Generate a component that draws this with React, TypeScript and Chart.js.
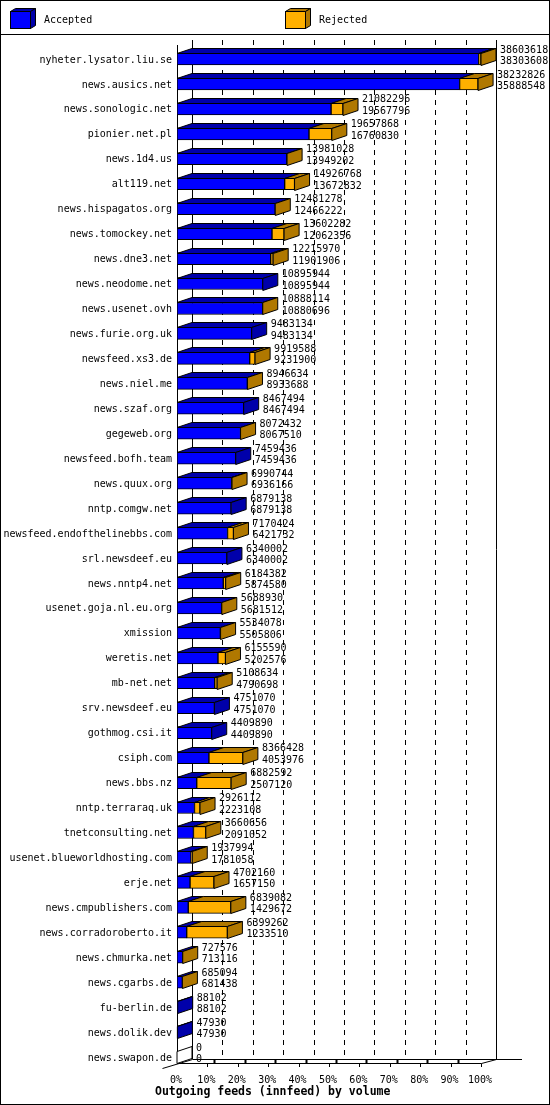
import { useEffect, useRef } from "react";
import { Chart, registerables } from "chart.js";

Chart.register(...registerables);

const hosts = [
  "nyheter.lysator.liu.se",
  "news.ausics.net",
  "news.sonologic.net",
  "pionier.net.pl",
  "news.1d4.us",
  "alt119.net",
  "news.hispagatos.org",
  "news.tomockey.net",
  "news.dne3.net",
  "news.neodome.net",
  "news.usenet.ovh",
  "news.furie.org.uk",
  "newsfeed.xs3.de",
  "news.niel.me",
  "news.szaf.org",
  "gegeweb.org",
  "newsfeed.bofh.team",
  "news.quux.org",
  "nntp.comgw.net",
  "newsfeed.endofthelinebbs.com",
  "srl.newsdeef.eu",
  "news.nntp4.net",
  "usenet.goja.nl.eu.org",
  "xmission",
  "weretis.net",
  "mb-net.net",
  "srv.newsdeef.eu",
  "gothmog.csi.it",
  "csiph.com",
  "news.bbs.nz",
  "nntp.terraraq.uk",
  "tnetconsulting.net",
  "usenet.blueworldhosting.com",
  "erje.net",
  "news.cmpublishers.com",
  "news.corradoroberto.it",
  "news.chmurka.net",
  "news.cgarbs.de",
  "fu-berlin.de",
  "news.dolik.dev",
  "news.swapon.de",
];

const offered = [
  38603618, 38232826, 21082296, 19657868, 13981028, 14926768, 12481278,
  13602282, 12215970, 10895944, 10888114, 9483134, 9919588, 8946634, 8467494,
  8072432, 7459436, 6990744, 6879138, 7170424, 6340002, 6184382, 5688930,
  5534078, 6155590, 5108634, 4751070, 4409890, 8366428, 6882592, 2926112,
  3660656, 1937994, 4702160, 6839082, 6399262, 727576, 685094, 88102, 47930, 0,
];

const accepted = [
  38303608, 35888548, 19567796, 16760830, 13949202, 13672832, 12466222,
  12062356, 11901906, 10895944, 10880696, 9483134, 9231900, 8933688, 8467494,
  8067510, 7459436, 6936166, 6879138, 6421732, 6340002, 5874580, 5681512,
  5505806, 5202576, 4790698, 4751070, 4409890, 4053976, 2507120, 2223108,
  2091052, 1781058, 1657150, 1429672, 1233510, 713116, 681438, 88102, 47930, 0,
];

const tickValues = [0, 10, 20, 30, 40, 50, 60, 70, 80, 90, 100];
const tickLabels = ["0%", "10%", "20%", "30%", "40%", "50%", "60%", "70%", "80%", "90%", "100%"];
const legendLabels = ["Accepted", "Rejected"];
const axisTitle = "Outgoing feeds (innfeed) by volume";

const maxOffered = Math.max(...offered);
const acceptedPct = accepted.map((a) => (a / maxOffered) * 100);
const rejectedPct = offered.map((o, i) => ((o - accepted[i]) / maxOffered) * 100);

const W = 550;
const H = 1105;
const DX = 15;
const DY = 5;
const BLUE = "#0000ff";
const BLUE_DARK = "#0000aa";
const GOLD = "#ffb000";
const GOLD_DARK = "#b07800";
const FONT = "10px 'DejaVu Sans Mono', monospace";
const BOLD = "bold 11.5px 'DejaVu Sans Mono', monospace";

function poly(ctx: CanvasRenderingContext2D, pts: number[][], fill: string | null) {
  ctx.beginPath();
  ctx.moveTo(pts[0][0], pts[0][1]);
  for (let i = 1; i < pts.length; i++) ctx.lineTo(pts[i][0], pts[i][1]);
  ctx.closePath();
  if (fill) {
    ctx.fillStyle = fill;
    ctx.fill();
  }
  ctx.stroke();
}

function line(ctx: CanvasRenderingContext2D, x1: number, y1: number, x2: number, y2: number) {
  ctx.beginPath();
  ctx.moveTo(x1, y1);
  ctx.lineTo(x2, y2);
  ctx.stroke();
}

const threeD = {
  id: "threeD",
  beforeDatasetsDraw(chart: any) {
    const { ctx, scales } = chart;
    const x = scales.x;
    const y = scales.y;
    const backTop = 40;
    const backBottom = 1059;
    ctx.save();
    ctx.strokeStyle = "#000";
    ctx.lineWidth = 1;
    // back wall grid lines
    tickValues.forEach((v, i) => {
      const px = Math.round(x.getPixelForValue(v) + DX) + 0.5;
      ctx.setLineDash(i === 0 || i === tickValues.length - 1 ? [] : [5, 5]);
      line(ctx, px, backTop, px, backBottom);
    });
    ctx.setLineDash([]);
    // front wall line
    const x0 = Math.round(x.getPixelForValue(0)) + 0.5;
    line(ctx, x0, 45, x0, 1064);
    // floor
    const x100 = Math.round(x.getPixelForValue(100)) + 0.5;
    line(ctx, x0 - 15, 1068.5, x0 + DX, backBottom + 0.5);
    line(ctx, x0, 1063.5, x100, 1063.5);
    line(ctx, x100, 1063.5, x100 + DX, backBottom + 0.5);
    line(ctx, x0 + DX, backBottom + 0.5, 522, backBottom + 0.5);
    // ticks
    tickValues.forEach((v, i) => {
      if (i === 0) return;
      const px = Math.round(x.getPixelForValue(v)) + 0.5;
      line(ctx, px, 1063.5, px, 1067);
      if (i < tickValues.length - 1) {
        ctx.fillStyle = "#000";
        ctx.fillRect(px + 6, 1060, 2, 3);
      }
    });
    // tick labels
    ctx.fillStyle = "#000";
    ctx.font = FONT;
    ctx.textAlign = "center";
    ctx.textBaseline = "middle";
    tickValues.forEach((v, i) => {
      ctx.fillText(tickLabels[i], x.getPixelForValue(v) - 1, 1080);
    });
    // category labels
    ctx.textAlign = "right";
    hosts.forEach((h, i) => {
      ctx.fillText(h, 172, y.getPixelForValue(i) + 1);
    });
    ctx.restore();
  },
  afterDatasetsDraw(chart: any) {
    const { ctx } = chart;
    const metaA = chart.getDatasetMeta(0);
    const metaR = chart.getDatasetMeta(1);
    ctx.save();
    ctx.strokeStyle = "#000";
    ctx.lineWidth = 1;
    ctx.lineJoin = "miter";
    hosts.forEach((_, i) => {
      const a = metaA.data[i].getProps(["x", "y", "base", "height"], true);
      const r = metaR.data[i].getProps(["x", "y", "base", "height"], true);
      const top = Math.round(a.y - a.height / 2) + 0.5;
      const bot = top + a.height;
      const segs = [
        { x0: a.base, x1: a.x, c: BLUE_DARK },
        { x0: r.base, x1: r.x, c: GOLD_DARK },
      ];
      segs.forEach((s) => {
        if (s.x1 - s.x0 > 0.3) {
          poly(
            ctx,
            [
              [s.x0, top],
              [s.x1, top],
              [s.x1 + DX, top - DY],
              [s.x0 + DX, top - DY],
            ],
            s.c
          );
        }
      });
      const end = Math.max(a.x, r.x);
      const sideColor = offered[i] === 0 ? "#ffffff" : offered[i] > accepted[i] ? GOLD_DARK : BLUE_DARK;
      poly(
        ctx,
        [
          [end, top],
          [end + DX, top - DY],
          [end + DX, bot - DY],
          [end, bot],
        ],
        sideColor
      );
      // value labels
      ctx.fillStyle = "#000";
      ctx.font = FONT;
      ctx.textAlign = "left";
      ctx.textBaseline = "middle";
      const cy = a.y;
      ctx.fillText(String(offered[i]), end + DX + 4, cy - 9);
      ctx.fillText(String(accepted[i]), end + DX + 4, cy + 2.5);
    });
    ctx.restore();
  },
  afterDraw(chart: any) {
    const { ctx } = chart;
    ctx.save();
    ctx.strokeStyle = "#000";
    ctx.lineWidth = 1;
    // frame
    ctx.strokeRect(0.5, 0.5, W - 1, H - 1);
    line(ctx, 0, 34.5, W, 34.5);
    // legend
    const sw = [
      { x: 10.5, c: BLUE, d: BLUE_DARK, tx: 44 },
      { x: 285.5, c: GOLD, d: GOLD_DARK, tx: 319 },
    ];
    sw.forEach((s, i) => {
      const y0 = 11.5;
      const w = 20;
      const h = 17;
      ctx.fillStyle = s.c;
      ctx.fillRect(s.x, y0, w, h);
      ctx.strokeRect(s.x, y0, w, h);
      poly(ctx, [[s.x, y0], [s.x + w, y0], [s.x + w + 5, y0 - 3], [s.x + 5, y0 - 3]], s.d);
      poly(ctx, [[s.x + w, y0], [s.x + w + 5, y0 - 3], [s.x + w + 5, y0 + h - 3], [s.x + w, y0 + h]], s.d);
      ctx.fillStyle = "#000";
      ctx.font = FONT;
      ctx.textAlign = "left";
      ctx.textBaseline = "middle";
      ctx.fillText(legendLabels[i], s.tx, 20.5);
    });
    // axis title
    ctx.font = BOLD;
    ctx.textAlign = "left";
    ctx.textBaseline = "middle";
    ctx.fillText(axisTitle, 155, 1092);
    ctx.restore();
  },
};

export default function App() {
  const ref = useRef<HTMLCanvasElement | null>(null);
  useEffect(() => {
    document.body.style.margin = "0";
    const canvas = ref.current;
    if (!canvas) return;
    const chart = new Chart(canvas, {
      type: "bar",
      data: {
        labels: hosts,
        datasets: [
          {
            label: legendLabels[0],
            data: acceptedPct,
            backgroundColor: BLUE,
            borderColor: "#000",
            borderWidth: 1,
            borderSkipped: false,
            barThickness: 12,
            stack: "s",
          },
          {
            label: legendLabels[1],
            data: rejectedPct,
            backgroundColor: GOLD,
            borderColor: "#000",
            borderWidth: 1,
            borderSkipped: false,
            barThickness: 12,
            stack: "s",
          },
        ],
      },
      options: {
        indexAxis: "y",
        animation: false,
        responsive: false,
        devicePixelRatio: 1,
        layout: { padding: { left: 177, right: 69, top: 46.5, bottom: 35.5 } },
        scales: {
          x: { stacked: true, min: 0, max: 100, display: false },
          y: { stacked: true, display: false },
        },
        plugins: { legend: { display: false }, tooltip: { enabled: false } },
      },
      plugins: [threeD],
    } as any);
    return () => chart.destroy();
  }, []);
  return (
    <div style={{ width: W, height: H, background: "#fff" }}>
      <canvas ref={ref} width={W} height={H} style={{ display: "block" }} />
    </div>
  );
}
